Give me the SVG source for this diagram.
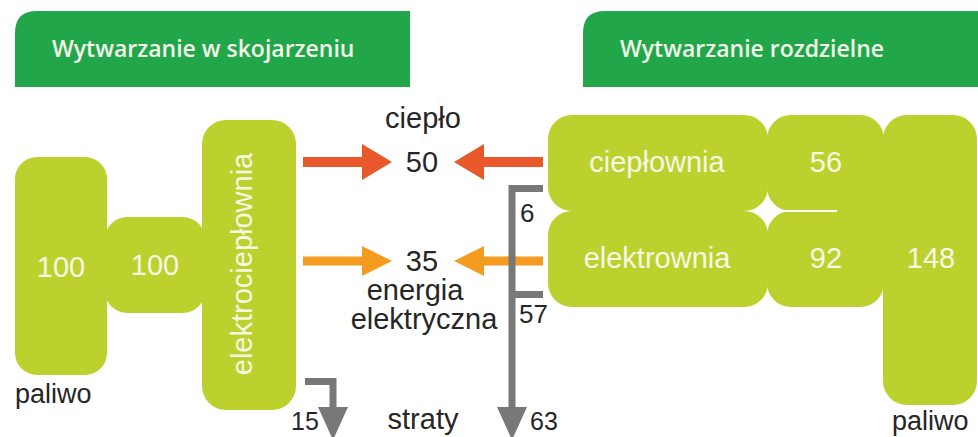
<svg xmlns="http://www.w3.org/2000/svg" width="978" height="437" viewBox="0 0 978 437">
<style>
.hdr{fill:#22A64A}
.hdrt{font-family:"Open Sans","Noto Sans",sans-serif;font-weight:600;font-size:23px;fill:#F2F7EA}
.box{fill:#BDD12E}
.bt{font-family:"Liberation Sans",Arial,sans-serif;font-size:29px;fill:#F5F8E4;text-anchor:middle}
.lbl{font-family:"Liberation Sans",Arial,sans-serif;font-size:29px;fill:#262626;text-anchor:middle}
.sm{font-family:"Liberation Sans",Arial,sans-serif;font-size:26px;fill:#262626}
.red{stroke:#E8582A;stroke-width:10;fill:none}
.org{stroke:#F39C20;stroke-width:9;fill:none}
.gry{stroke:#787878;stroke-width:7;fill:none;stroke-linejoin:miter}
</style>
<defs>
<marker id="hr" markerUnits="userSpaceOnUse" markerWidth="32" markerHeight="36" refX="0" refY="18" orient="auto"><path d="M0,0 L30,18 L0,36 Z" fill="#E8582A"/></marker>
<marker id="ho" markerUnits="userSpaceOnUse" markerWidth="32" markerHeight="30" refX="0" refY="15" orient="auto"><path d="M0,0 L30,15 L0,30 Z" fill="#F39C20"/></marker>
<marker id="hg" markerUnits="userSpaceOnUse" markerWidth="34" markerHeight="30" refX="0" refY="15" orient="auto"><path d="M0,0 L33,15 L0,30 Z" fill="#787878"/></marker>
</defs>
<rect width="978" height="437" fill="#FFFFFF"/>
<g id="hdr-left"><path class="hdr" d="M15,87 V33 Q15,11 37,11 H410 V87 Z"/><text class="hdrt" x="52" y="57">Wytwarzanie w skojarzeniu</text></g>
<g id="hdr-right"><path class="hdr" d="M583,87 V33 Q583,11 605,11 H978 V87 Z"/><text class="hdrt" x="620" y="57">Wytwarzanie rozdzielne</text></g>

<g id="paliwo-left"><rect class="box" x="15" y="157" width="92" height="218" rx="22"/><text class="bt" x="61" y="277">100</text><text class="sm" x="15" y="403" style="font-size:27px">paliwo</text></g>
<g id="in-100"><rect class="box" x="105" y="217" width="100" height="96" rx="22"/><text class="bt" x="155" y="275">100</text></g>
<g id="elektrocieplownia"><rect class="box" x="202" y="120" width="94" height="290" rx="24"/><text class="bt" transform="translate(252,264) rotate(-90)" x="0" y="0">elektrociepłownia</text></g>

<g id="cieplownia"><rect class="box" x="548" y="115" width="220" height="96" rx="24"/><text class="bt" x="657" y="172">ciepłownia</text></g>
<g id="elektrownia"><rect class="box" x="548" y="211" width="220" height="96" rx="24"/><text class="bt" x="657" y="268">elektrownia</text></g>
<g id="n56"><rect class="box" x="767" y="115" width="117" height="96" rx="24"/><rect class="box" x="790" y="140" width="105" height="71"/><text class="bt" x="826" y="172">56</text></g>
<g id="n92"><rect class="box" x="767" y="211" width="117" height="96" rx="24"/><rect class="box" x="790" y="211" width="105" height="72"/><text class="bt" x="826" y="268">92</text></g>
<g id="n148"><rect class="box" x="883" y="115" width="94" height="290" rx="24"/><line x1="767" y1="211" x2="837" y2="211" stroke="#FFFFFF" stroke-width="2"/><text class="bt" x="931" y="268">148</text><text class="sm" x="892" y="430" style="font-size:27px">paliwo</text></g>

<g id="connectors">
<path class="red" d="M303,162 H362" marker-end="url(#hr)"/>
<path class="red" d="M543,162 H484" marker-end="url(#hr)"/>
<path class="org" d="M303,261 H362" marker-end="url(#ho)"/>
<path class="org" d="M543,261 H484" marker-end="url(#ho)"/>
<path class="gry" d="M305,381.5 H333 V407" marker-end="url(#hg)"/>
<path class="gry" d="M543,188.5 H512 V407" marker-end="url(#hg)"/>
<path class="gry" d="M543,294.5 H512"/>
</g>

<g id="labels">
<text class="lbl" x="423" y="429">straty</text>
<text class="lbl" x="423" y="128">ciepło</text>
<text class="lbl" x="422" y="172">50</text>
<text class="lbl" x="422" y="271">35</text>
<text class="lbl" x="415" y="300">energia</text>
<text class="lbl" x="424" y="329">elektryczna</text>
<text class="sm" x="520" y="222">6</text>
<text class="sm" x="519" y="323">57</text>
<text class="sm" x="530" y="430" style="font-size:25px">63</text>
<text class="sm" x="291" y="430" style="font-size:25px">15</text>
</g>
</svg>
